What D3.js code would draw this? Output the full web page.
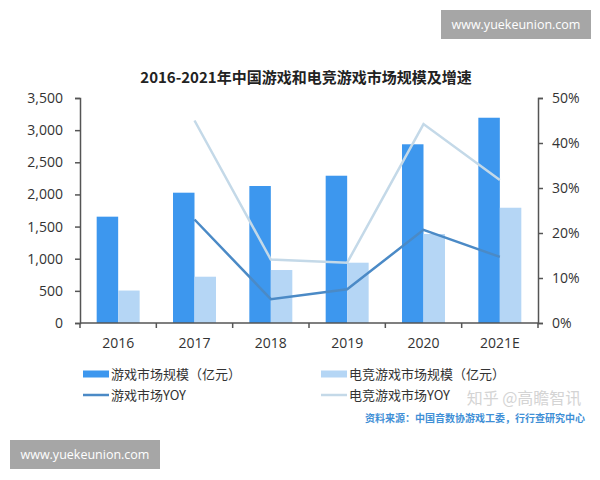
<!DOCTYPE html>
<html>
<head>
<meta charset="utf-8">
<script src="https://cdn.jsdelivr.net/npm/d3@7"></script>
<style>
body { margin: 0; background: #fff; }
svg { display: block; }
text { font-family: "Open Sans", "Noto Sans CJK SC", sans-serif; }
.cn { font-family: "Noto Sans CJK SC", sans-serif; }
</style>
</head>
<body>
<svg id="chart" width="600" height="480"></svg>
<script>
// data
years = ["2016", "2017", "2018", "2019", "2020", "2021E"];
gameSize = [1654, 2027, 2131, 2291, 2780, 3193];
esportSize = [505, 720, 824, 938, 1384, 1793];
gameYoy = [null, 23.0, 5.3, 7.5, 20.7, 14.7];
esportYoy = [null, 45.0, 14.1, 13.4, 44.2, 31.8];
leftTicks = [0, 500, 1000, 1500, 2000, 2500, 3000, 3500];
rightTicks = [0, 10, 20, 30, 40, 50];

gameColor = "#3d97ee";
esportColor = "#b5d6f5";
gameLineColor = "#4b8ac6";
esportLineColor = "#c4d9e8";
axisColor = "#555";

var svg = d3.select("#chart");

var plotLeft = 80, plotRight = 538, plotTop = 98, plotBottom = 323;

var x = d3.scaleBand()
    .domain(years)
    .range([plotLeft, plotRight])
    .paddingInner(0.437)
    .paddingOuter(0.2185);

var inner = d3.scaleBand()
    .domain(["game", "esport"])
    .range([0, x.bandwidth()]);

var yL = d3.scaleLinear().domain([0, 3500]).range([plotBottom, plotTop]);
var yR = d3.scaleLinear().domain([0, 50]).range([plotBottom, plotTop]);

// title
svg.append("text")
    .attr("class", "cn")
    .attr("x", 306).attr("y", 83)
    .attr("text-anchor", "middle")
    .attr("font-size", 15).attr("font-weight", "bold")
    .attr("fill", "#222")
    .text("2016-2021年中国游戏和电竞游戏市场规模及增速");

// bars
svg.append("g").selectAll("rect")
    .data(years)
    .join("rect")
        .attr("x", function (d) { return x(d) + inner("game"); })
        .attr("y", function (d, i) { return yL(gameSize[i]); })
        .attr("width", inner.bandwidth())
        .attr("height", function (d, i) { return yL(0) - yL(gameSize[i]); })
        .attr("fill", gameColor);

svg.append("g").selectAll("rect")
    .data(years)
    .join("rect")
        .attr("x", function (d) { return x(d) + inner("esport"); })
        .attr("y", function (d, i) { return yL(esportSize[i]); })
        .attr("width", inner.bandwidth())
        .attr("height", function (d, i) { return yL(0) - yL(esportSize[i]); })
        .attr("fill", esportColor);

// lines
var line = d3.line()
    .defined(function (d) { return d.v != null; })
    .x(function (d) { return x(d.year) + x.bandwidth() / 2; })
    .y(function (d) { return yR(d.v); });

svg.append("path")
    .attr("d", line(years.map(function (y, i) { return { year: y, v: esportYoy[i] }; })))
    .attr("fill", "none")
    .attr("stroke", esportLineColor)
    .attr("stroke-width", 2.5);

svg.append("path")
    .attr("d", line(years.map(function (y, i) { return { year: y, v: gameYoy[i] }; })))
    .attr("fill", "none")
    .attr("stroke", gameLineColor)
    .attr("stroke-width", 2.5);

// axes
var axL = svg.append("g")
    .attr("transform", "translate(" + plotLeft + ",0)")
    .call(d3.axisLeft(yL).tickValues(leftTicks).tickFormat(d3.format(",")).tickSize(5).tickPadding(12));
var axR = svg.append("g")
    .attr("transform", "translate(" + plotRight + ",0)")
    .call(d3.axisRight(yR).tickValues(rightTicks).tickFormat(function (d) { return d + "%"; }).tickSize(5).tickPadding(9));

var step = x.step();
var bounds = d3.range(years.length + 1).map(function (i) { return plotLeft + i * step; });
var axB = svg.append("g").attr("transform", "translate(0," + plotBottom + ")");
axB.append("line")
    .attr("x1", plotLeft).attr("x2", plotRight)
    .attr("stroke", axisColor).attr("stroke-width", 1.5);
axB.selectAll(".tk").data(bounds).join("line")
    .attr("x1", function (d) { return d; }).attr("x2", function (d) { return d; })
    .attr("y1", 0).attr("y2", 5)
    .attr("stroke", axisColor).attr("stroke-width", 1.5);
axB.selectAll(".lb").data(years).join("text")
    .attr("x", function (d) { return x(d) + x.bandwidth() / 2; })
    .attr("y", 25)
    .attr("text-anchor", "middle")
    .attr("font-size", 14)
    .attr("fill", "#333")
    .text(function (d) { return d; });

[axL, axR].forEach(function (g) {
    g.select(".domain").attr("stroke", axisColor).attr("stroke-width", 1.5);
    g.selectAll(".tick line").attr("stroke", axisColor).attr("stroke-width", 1.5);
    g.selectAll(".tick text").attr("font-size", 14).attr("fill", "#333")
        .attr("font-family", "'Open Sans', sans-serif");
});

// legend
var legend = [
    { label: "游戏市场规模（亿元）", color: gameColor, kind: "bar", x: 83, y: 374 },
    { label: "电竞游戏市场规模（亿元）", color: esportColor, kind: "bar", x: 321, y: 374 },
    { label: "游戏市场YOY", color: gameLineColor, kind: "line", x: 83, y: 395 },
    { label: "电竞游戏市场YOY", color: esportLineColor, kind: "line", x: 321, y: 395 }
];
legend.forEach(function (d) {
    if (d.kind == "bar") {
        svg.append("rect").attr("x", d.x).attr("y", d.y - 3.5)
            .attr("width", 26).attr("height", 7).attr("fill", d.color);
    } else {
        svg.append("line").attr("x1", d.x).attr("x2", d.x + 26)
            .attr("y1", d.y).attr("y2", d.y)
            .attr("stroke", d.color).attr("stroke-width", 2.5);
    }
    svg.append("text").attr("class", "cn")
        .attr("x", d.x + 28).attr("y", d.y + 5)
        .attr("font-size", 13).attr("fill", "#333")
        .text(d.label);
});

// watermark + source
svg.append("text").attr("class", "cn")
    .attr("x", 524).attr("y", 404)
    .attr("text-anchor", "middle")
    .attr("font-size", 16).attr("fill", "#d4d4d4")
    .text("知乎 @高瞻智讯");
svg.append("text").attr("class", "cn")
    .attr("x", 585).attr("y", 422)
    .attr("text-anchor", "end")
    .attr("font-size", 10).attr("font-weight", "bold")
    .attr("fill", "#3f8fd6")
    .text("资料来源：中国音数协游戏工委，行行查研究中心");

// site boxes
[{ x: 441, y: 10 }, { x: 10, y: 440 }].forEach(function (b) {
    svg.append("rect").attr("x", b.x).attr("y", b.y)
        .attr("width", 150).attr("height", 29).attr("fill", "#a6a6a6");
    svg.append("text").attr("x", b.x + 75).attr("y", b.y + 19)
        .attr("text-anchor", "middle")
        .attr("font-size", 12.5).attr("fill", "#fff")
        .text("www.yuekeunion.com");
});
</script>
</body>
</html>
